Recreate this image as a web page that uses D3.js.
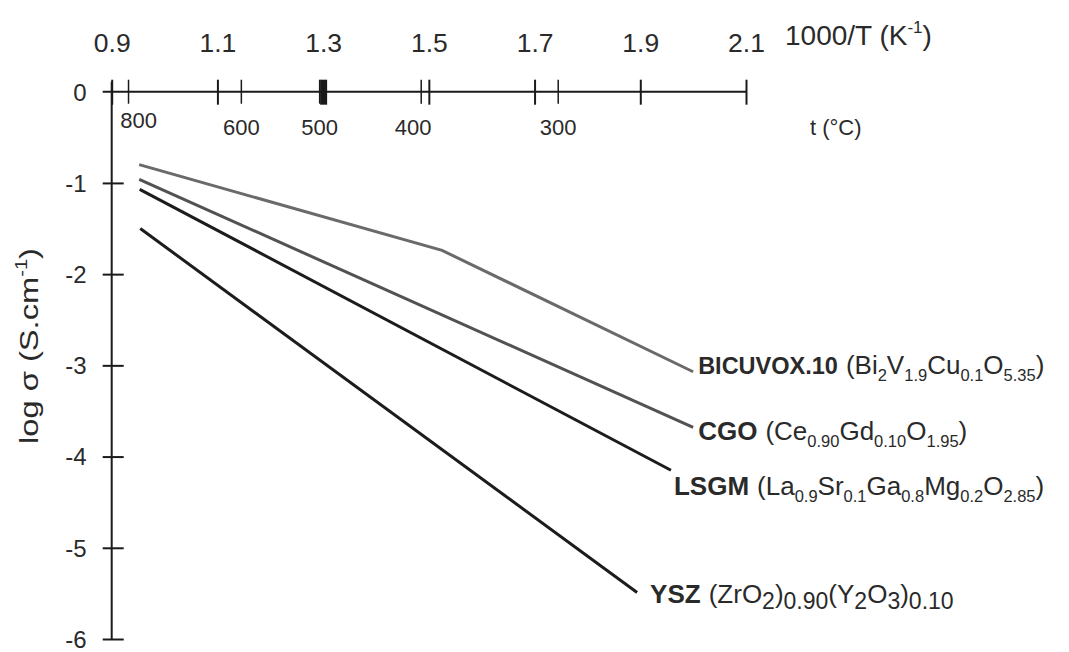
<!DOCTYPE html>
<html>
<head>
<meta charset="utf-8">
<script src="https://cdn.jsdelivr.net/npm/d3@7"></script>
<style>
  body { margin: 0; background: #fff; }
  svg { display: block; font-family: "Liberation Sans", Arial, Helvetica, sans-serif; }
  .axis line, .axis path { stroke: #1a1a1a; }
  .axis text { fill: #2a2a2a; }
</style>
</head>
<body>
<div id="chart"></div>
<script>
// ---- data ----
var invTTicks = [0.9, 1.1, 1.3, 1.5, 1.7, 1.9, 2.1];   // 1000/T (K^-1)
var tempTicks = [800, 600, 500, 400, 300];              // t (°C)
var logTicks = [0, -1, -2, -3, -4, -5, -6];

var seriesNames = ["BICUVOX.10", "CGO", "LSGM", "YSZ"];
var bicuvoxX = [0.952, 1.525, 2.0];
var bicuvoxY = [-0.80, -1.74, -3.07];
var cgoX = [0.952, 2.0];
var cgoY = [-0.96, -3.68];
var lsgmX = [0.953, 1.958];
var lsgmY = [-1.07, -4.15];
var yszX = [0.954, 1.894];
var yszY = [-1.50, -5.49];

// formula pieces: [text, kind]  kind: n = normal, s = small subscript, b = big subscript
var bicuvoxFormula = [["(Bi","n"],["2","s"],["V","n"],["1.9","s"],["Cu","n"],["0.1","s"],["O","n"],["5.35","s"],[")","n"]];
var cgoFormula = [["(Ce","n"],["0.90","s"],["Gd","n"],["0.10","s"],["O","n"],["1.95","s"],[")","n"]];
var lsgmFormula = [["(La","n"],["0.9","s"],["Sr","n"],["0.1","s"],["Ga","n"],["0.8","s"],["Mg","n"],["0.2","s"],["O","n"],["2.85","s"],[")","n"]];
var yszFormula = [["(ZrO","n"],["2","b"],[")","n"],["0.90","b"],["(Y","n"],["2","b"],["O","n"],["3","b"],[")","n"],["0.10","b"]];

var series = [
  { name: seriesNames[0], xs: bicuvoxX, ys: bicuvoxY, formula: bicuvoxFormula },
  { name: seriesNames[1], xs: cgoX, ys: cgoY, formula: cgoFormula },
  { name: seriesNames[2], xs: lsgmX, ys: lsgmY, formula: lsgmFormula },
  { name: seriesNames[3], xs: yszX, ys: yszY, formula: yszFormula }
];

// ---- style ----
var lineColor = { "BICUVOX.10": "#6a6a6a", "CGO": "#525252", "LSGM": "#1c1c1c", "YSZ": "#1c1c1c" };
var labelNudge = { "BICUVOX.10": [5, 2], "CGO": [5, 13], "LSGM": [3, 25], "YSZ": [13, 11] };
var nameSize = { "BICUVOX.10": 23.5 };
var tempNudge = { 800: [10, -7], 400: [-8, 0] };

var W = 1069, H = 652;
var x = d3.scaleLinear().domain([0.9, 2.1]).range([111.7, 746]);
var y = d3.scaleLinear().domain([0, -6]).range([91.7, 639]);

var svg = d3.select("#chart").append("svg")
  .attr("width", W).attr("height", H);

svg.append("rect").attr("width", W).attr("height", H).attr("fill", "#fff");

// ---- top axis (1000/T) ----
var topAxis = svg.append("g")
  .attr("class", "axis topAxis")
  .attr("transform", "translate(0," + y(0) + ")")
  .call(d3.axisTop(x).tickValues(invTTicks).tickSize(12).tickSizeOuter(0).tickFormat(d3.format(".1f")));
topAxis.select(".domain").attr("d", "M" + (x(0.9) - 9) + ",0H" + x(2.1)).attr("stroke-width", 2);
topAxis.selectAll(".tick line")
  .attr("y1", 13).attr("y2", -12)
  .attr("stroke-width", function (d) {
    var close = tempTicks.some(function (t) { return Math.abs(1000 / (t + 273.15) - d) < 0.01; });
    return close ? 7 : 2;
  });
topAxis.selectAll(".tick text")
  .attr("y", -40).attr("dy", 0)
  .attr("font-size", 26.5);

svg.append("text")
  .attr("x", 785).attr("y", 45)
  .attr("font-size", 28).attr("fill", "#2a2a2a")
  .call(function (t) {
    t.append("tspan").text("1000/T (K");
    t.append("tspan").attr("font-size", 17).attr("dy", -12).text("-1");
    t.append("tspan").attr("dy", 12).text(")");
  });

// temperature ticks on the same line
var tempG = svg.append("g").attr("class", "axis tempAxis");
tempG.selectAll("line")
  .data(tempTicks).enter().append("line")
  .attr("x1", function (d) { return x(1000 / (d + 273.15)); })
  .attr("x2", function (d) { return x(1000 / (d + 273.15)); })
  .attr("y1", y(0) - 12).attr("y2", y(0) + 12)
  .attr("stroke", "#444").attr("stroke-width", 1.5);
tempG.selectAll("text")
  .data(tempTicks).enter().append("text")
  .attr("x", function (d) { return x(1000 / (d + 273.15)) + (tempNudge[d] ? tempNudge[d][0] : 0); })
  .attr("y", function (d) { return y(0) + 43 + (tempNudge[d] ? tempNudge[d][1] : 0); })
  .attr("text-anchor", "middle")
  .attr("font-size", 22)
  .text(function (d) { return d; });

svg.append("text")
  .attr("x", 810).attr("y", 135)
  .attr("font-size", 22).attr("fill", "#2a2a2a")
  .text("t (°C)");

// ---- left axis ----
var leftAxis = svg.append("g")
  .attr("class", "axis leftAxis")
  .attr("transform", "translate(" + x(0.9) + ",0)")
  .call(d3.axisLeft(y).tickValues(logTicks).tickSize(9).tickSizeOuter(0).tickFormat(d3.format("d")));
leftAxis.select(".domain").attr("d", "M0," + (y(0) - 10) + "V" + y(-6)).attr("stroke-width", 2);
leftAxis.selectAll(".tick line").attr("x1", 12).attr("x2", -9).attr("stroke-width", 2)
  .filter(function (d) { return d === 0; }).remove();
leftAxis.selectAll(".tick text")
  .attr("x", -25).attr("dy", "0.35em")
  .attr("font-size", 24)
  .text(function (d) { return d === 0 ? "0" : "-" + Math.abs(d); });

svg.append("text")
  .attr("transform", "translate(38,346) rotate(-90)")
  .attr("text-anchor", "middle")
  .attr("font-size", 26).attr("fill", "#2a2a2a")
  .attr("textLength", 196).attr("lengthAdjust", "spacingAndGlyphs")
  .call(function (t) {
    t.append("tspan").text("log σ (S.cm");
    t.append("tspan").attr("font-size", 16).attr("dy", -11).text("-1");
    t.append("tspan").attr("dy", 11).text(")");
  });

// ---- series lines ----
var line = d3.line()
  .x(function (d) { return x(d[0]); })
  .y(function (d) { return y(d[1]); });

svg.append("g").selectAll("path")
  .data(series).enter().append("path")
  .attr("d", function (s) { return line(d3.zip(s.xs, s.ys)); })
  .attr("fill", "none")
  .attr("stroke", function (s) { return lineColor[s.name]; })
  .attr("stroke-width", 3);

// ---- labels: bold name, then formula with subscripts ----
var labelG = svg.append("g").attr("fill", "#2a2a2a");

series.forEach(function (s) {
  var lx = x(s.xs[s.xs.length - 1]) + labelNudge[s.name][0];
  var ly = y(s.ys[s.ys.length - 1]) + labelNudge[s.name][1];

  var nm = labelG.append("text")
    .attr("x", lx).attr("y", ly)
    .attr("font-size", nameSize[s.name] || 26).attr("font-weight", "bold")
    .text(s.name);
  var w = nm.node().getComputedTextLength();

  var t = labelG.append("text")
    .attr("x", lx + w + 8).attr("y", ly)
    .attr("font-size", 26);
  var shift = 0;
  s.formula.forEach(function (p) {
    var target = p[1] === "s" ? 7 : (p[1] === "b" ? 6 : 0);
    var ts = t.append("tspan").attr("dy", target - shift).text(p[0]);
    if (p[1] === "s") ts.attr("font-size", 16.5);
    if (p[1] === "b") ts.attr("font-size", 23);
    shift = target;
  });
});
</script>
</body>
</html>
